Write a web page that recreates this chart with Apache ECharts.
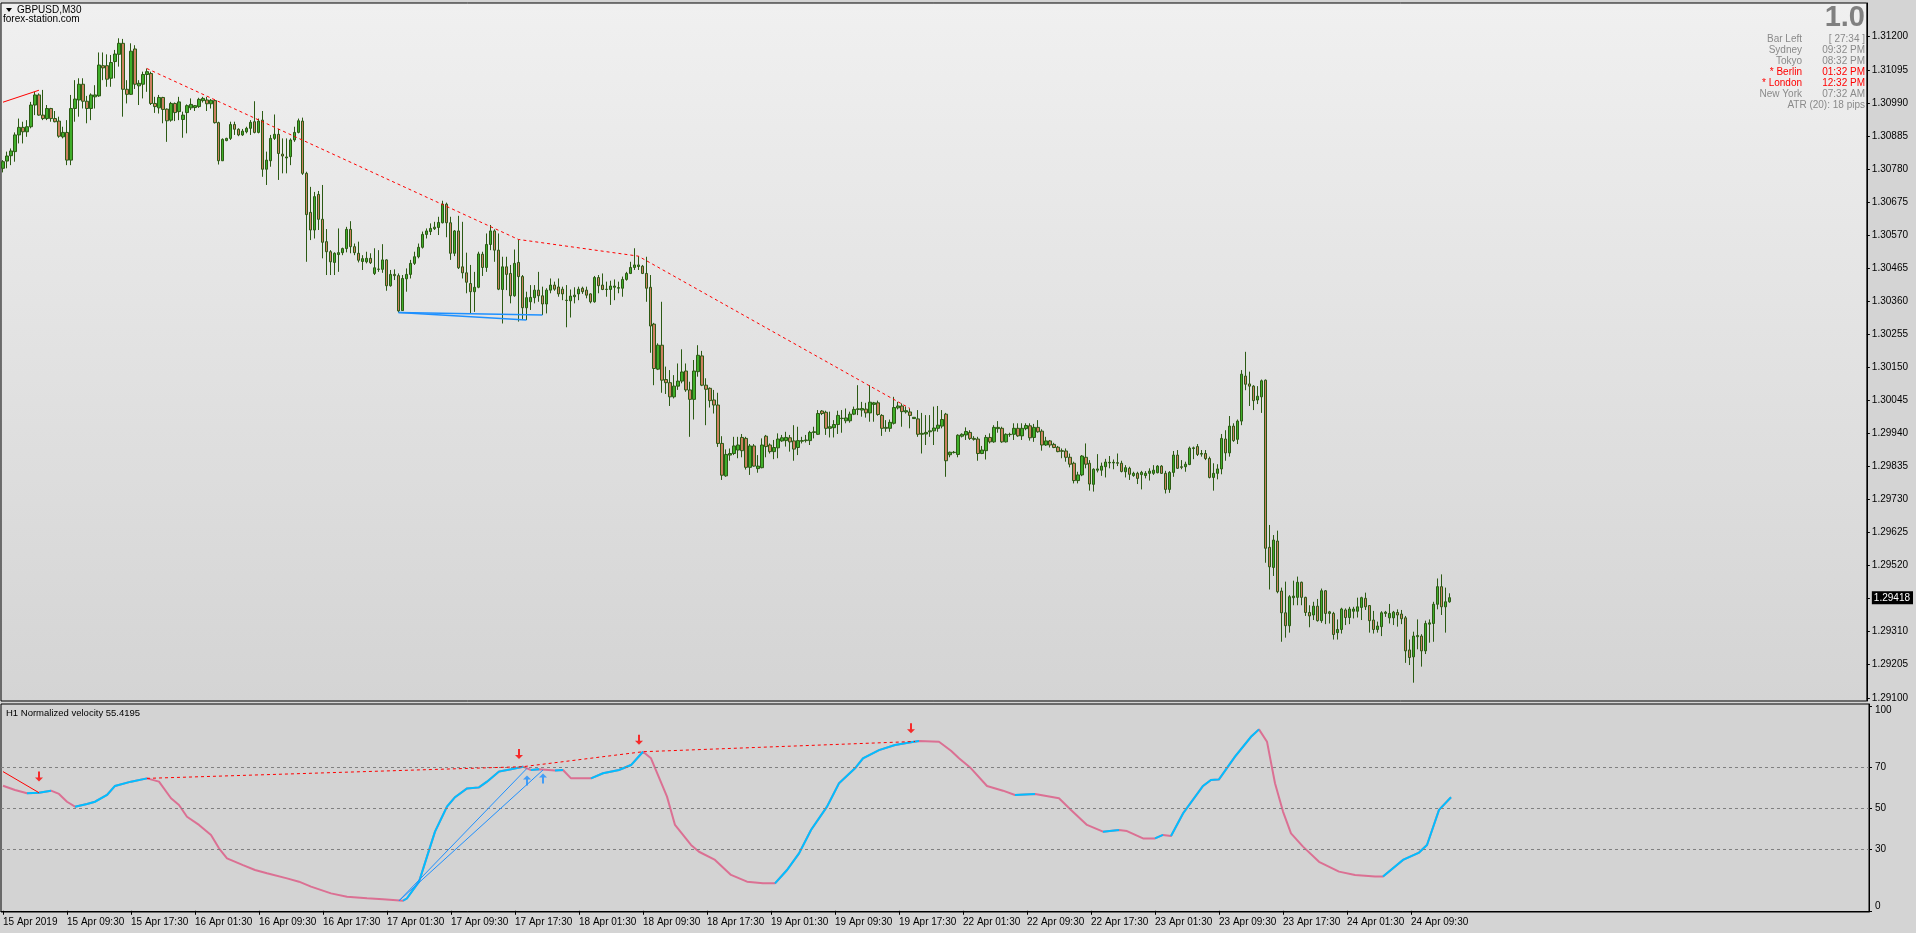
<!DOCTYPE html>
<html><head><meta charset="utf-8">
<script src="https://cdn.jsdelivr.net/npm/echarts@6/dist/echarts.min.js"></script>
<style>html,body{margin:0;padding:0;background:#d4d4d4;}#c{width:1916px;height:933px;}</style>
</head><body><div id="c"></div>
<script>
const opens=[1.30782,1.30805,1.30822,1.30835,1.30888,1.30912,1.30898,1.30914,1.30983,1.31015,
1.30951,1.30940,1.30972,1.30940,1.30932,1.30882,1.30896,1.30808,1.30972,1.30999,
1.31049,1.30995,1.30972,1.31009,1.31012,1.31108,1.31108,1.31068,1.31121,1.31144,
1.31179,1.31033,1.31017,1.31161,1.31044,1.31049,1.31080,1.31083,1.30988,1.30974,
1.31007,1.30970,1.30935,1.30988,1.30962,1.30937,1.30959,1.30974,1.30975,1.30978,
1.30997,1.30999,1.30987,1.30997,1.30927,1.30806,1.30870,1.30877,1.30921,1.30906,
1.30888,1.30898,1.30909,1.30930,1.30896,1.30935,1.30779,1.30806,1.30877,1.30890,
1.30827,1.30815,1.30819,1.30872,1.30896,1.30932,1.30766,1.30642,1.30586,1.30699,
1.30620,1.30549,1.30517,1.30483,1.30508,1.30514,1.30527,1.30588,1.30533,1.30512,
1.30486,1.30485,1.30496,1.30448,1.30462,1.30461,1.30491,1.30409,1.30445,1.30441,
1.30330,1.30431,1.30445,1.30480,1.30501,1.30531,1.30572,1.30581,1.30590,1.30594,
1.30609,1.30668,1.30609,1.30512,1.30583,1.30469,1.30450,1.30416,1.30390,1.30404,
1.30509,1.30467,1.30540,1.30583,1.30522,1.30397,1.30469,1.30448,1.30377,1.30483,
1.30438,1.30339,1.30358,1.30371,1.30395,1.30377,1.30351,1.30395,1.30411,1.30405,
1.30398,1.30363,1.30361,1.30374,1.30383,1.30401,1.30395,1.30383,1.30358,1.30435,
1.30411,1.30398,1.30397,1.30404,1.30401,1.30401,1.30429,1.30448,1.30467,1.30470,
1.30471,1.30448,1.30404,1.30287,1.30144,1.30220,1.30111,1.30101,1.30056,1.30090,
1.30106,1.30138,1.30078,1.30048,1.30136,1.30186,1.30093,1.30083,1.30046,1.30030,
1.29908,1.29805,1.29871,1.29876,1.29887,1.29927,1.29924,1.29832,1.29900,1.29828,
1.29831,1.29931,1.29903,1.29882,1.29894,1.29916,1.29917,1.29926,1.29916,1.29895,
1.29915,1.29917,1.29917,1.29943,1.29937,1.30011,1.30007,1.29956,1.29958,1.29968,
1.29987,1.29980,1.29980,1.30001,1.30016,1.30014,1.30017,1.30005,1.30032,1.30037,
1.29997,1.29959,1.29956,1.29972,1.30021,1.30027,1.30008,1.30008,1.29987,1.29986,
1.29937,1.29938,1.29945,1.29948,1.29956,1.29963,1.30001,1.29872,1.29879,1.29873,
1.29931,1.29935,1.29943,1.29924,1.29922,1.29876,1.29885,1.29927,1.29913,1.29955,
1.29956,1.29913,1.29936,1.29937,1.29956,1.29932,1.29955,1.29964,1.29927,1.29959,
1.29947,1.29903,1.29916,1.29905,1.29896,1.29885,1.29884,1.29864,1.29845,1.29790,
1.29808,1.29864,1.29845,1.29778,1.29823,1.29823,1.29834,1.29846,1.29846,1.29847,
1.29845,1.29818,1.29829,1.29806,1.29813,1.29809,1.29806,1.29813,1.29813,1.29815,
1.29836,1.29813,1.29762,1.29816,1.29871,1.29834,1.29834,1.29841,1.29892,1.29898,
1.29874,1.29876,1.29860,1.29800,1.29813,1.29827,1.29922,1.29878,1.29963,1.29921,
1.29979,1.30122,1.30097,1.30090,1.30046,1.30056,1.30109,1.29578,1.29514,1.29598,
1.29439,1.29370,1.29329,1.29418,1.29419,1.29467,1.29419,1.29371,1.29363,1.29391,
1.29345,1.29440,1.29368,1.29368,1.29307,1.29317,1.29379,1.29355,1.29375,1.29375,
1.29387,1.29416,1.29393,1.29347,1.29317,1.29326,1.29368,1.29354,1.29354,1.29371,
1.29366,1.29354,1.29252,1.29230,1.29294,1.29296,1.29249,1.29334,1.29336,1.29397,
1.29453,1.29389,1.29405];
const highs=[1.30808,1.30835,1.30845,1.30896,1.30940,1.30930,1.30935,1.30993,1.31025,1.31020,
1.31031,1.30983,1.30974,1.30964,1.30946,1.30914,1.30935,1.31015,1.31062,1.31068,
1.31068,1.31012,1.31020,1.31046,1.31150,1.31150,1.31144,1.31142,1.31158,1.31195,
1.31193,1.31062,1.31179,1.31173,1.31062,1.31089,1.31099,1.31089,1.31009,1.31015,
1.31009,1.30972,1.30993,1.30991,1.31009,1.30962,1.30985,1.31004,1.30983,1.31006,
1.31009,1.31009,1.31002,1.31000,1.30930,1.30877,1.30879,1.30930,1.30930,1.30909,
1.30907,1.30914,1.30935,1.30995,1.30940,1.30964,1.30835,1.30888,1.30953,1.30907,
1.30877,1.30877,1.30877,1.30914,1.30940,1.30943,1.30771,1.30723,1.30707,1.30710,
1.30729,1.30589,1.30522,1.30515,1.30591,1.30530,1.30596,1.30614,1.30543,1.30549,
1.30506,1.30517,1.30512,1.30528,1.30522,1.30541,1.30493,1.30459,1.30461,1.30448,
1.30443,1.30464,1.30491,1.30517,1.30543,1.30581,1.30591,1.30607,1.30612,1.30628,
1.30679,1.30673,1.30628,1.30586,1.30631,1.30612,1.30514,1.30475,1.30453,1.30517,
1.30517,1.30575,1.30602,1.30588,1.30575,1.30501,1.30501,1.30475,1.30524,1.30556,
1.30443,1.30390,1.30411,1.30411,1.30453,1.30406,1.30401,1.30432,1.30422,1.30432,
1.30406,1.30411,1.30397,1.30404,1.30406,1.30406,1.30406,1.30385,1.30440,1.30443,
1.30448,1.30422,1.30425,1.30429,1.30422,1.30438,1.30453,1.30485,1.30528,1.30503,
1.30475,1.30501,1.30443,1.30291,1.30226,1.30358,1.30152,1.30141,1.30125,1.30162,
1.30207,1.30162,1.30104,1.30173,1.30220,1.30202,1.30115,1.30086,1.30078,1.30069,
1.29931,1.29889,1.29892,1.29929,1.29929,1.29938,1.29929,1.29906,1.29906,1.29871,
1.29924,1.29935,1.29908,1.29919,1.29940,1.29935,1.29945,1.29935,1.29966,1.29961,
1.29929,1.29935,1.29948,1.29961,1.30014,1.30014,1.30012,1.30009,1.29982,1.30012,
1.30014,1.30019,1.30009,1.30025,1.30093,1.30040,1.30037,1.30093,1.30040,1.30044,
1.30001,1.29982,1.29984,1.30056,1.30040,1.30035,1.30025,1.30019,1.29991,1.30014,
1.30005,1.29998,1.29998,1.30025,1.30027,1.30014,1.30005,1.29882,1.29884,1.29937,
1.29940,1.29959,1.29950,1.29931,1.29929,1.29900,1.29935,1.29940,1.29966,1.29979,
1.29961,1.29940,1.29942,1.29972,1.29972,1.29972,1.29972,1.29972,1.29970,1.29982,
1.29953,1.29929,1.29919,1.29910,1.29900,1.29892,1.29892,1.29876,1.29850,1.29818,
1.29871,1.29908,1.29855,1.29829,1.29874,1.29847,1.29859,1.29868,1.29857,1.29876,
1.29853,1.29839,1.29834,1.29818,1.29818,1.29821,1.29820,1.29829,1.29839,1.29839,
1.29839,1.29821,1.29820,1.29884,1.29887,1.29855,1.29850,1.29898,1.29898,1.29906,
1.29887,1.29887,1.29866,1.29845,1.29842,1.29938,1.29950,1.29995,1.29972,1.29984,
1.30141,1.30199,1.30136,1.30093,1.30090,1.30111,1.30111,1.29649,1.29617,1.29631,
1.29450,1.29469,1.29426,1.29472,1.29485,1.29469,1.29421,1.29394,1.29405,1.29414,
1.29447,1.29442,1.29376,1.29373,1.29349,1.29386,1.29384,1.29389,1.29389,1.29418,
1.29421,1.29434,1.29394,1.29376,1.29342,1.29375,1.29376,1.29398,1.29376,1.29381,
1.29379,1.29360,1.29285,1.29310,1.29349,1.29302,1.29345,1.29349,1.29405,1.29479,
1.29492,1.29450,1.29432];
const lows=[1.30769,1.30782,1.30792,1.30803,1.30861,1.30861,1.30882,1.30909,1.30951,1.30949,
1.30935,1.30935,1.30930,1.30928,1.30879,1.30877,1.30792,1.30792,1.30930,1.30946,
1.30972,1.30925,1.30935,1.30972,1.31009,1.31062,1.31041,1.31041,1.31068,1.31105,
1.30946,1.30988,1.31015,1.31034,1.30983,1.31004,1.31025,1.30983,1.30958,1.30956,
1.30925,1.30866,1.30930,1.30932,1.30935,1.30879,1.30893,1.30967,1.30964,1.30974,
1.30991,1.30964,1.30972,1.30924,1.30794,1.30805,1.30868,1.30872,1.30888,1.30884,
1.30885,1.30893,1.30888,1.30893,1.30893,1.30755,1.30729,1.30787,1.30872,1.30745,
1.30766,1.30766,1.30792,1.30866,1.30893,1.30761,1.30485,1.30554,1.30559,1.30586,
1.30496,1.30443,1.30443,1.30443,1.30453,1.30506,1.30515,1.30512,1.30506,1.30483,
1.30459,1.30480,1.30478,1.30443,1.30453,1.30450,1.30393,1.30406,1.30427,1.30324,
1.30329,1.30390,1.30432,1.30475,1.30496,1.30527,1.30559,1.30570,1.30586,1.30570,
1.30607,1.30563,1.30491,1.30503,1.30462,1.30432,1.30385,1.30321,1.30326,1.30401,
1.30440,1.30453,1.30522,1.30485,1.30395,1.30289,1.30395,1.30353,1.30374,1.30295,
1.30300,1.30300,1.30332,1.30353,1.30358,1.30316,1.30321,1.30385,1.30393,1.30374,
1.30363,1.30277,1.30308,1.30353,1.30363,1.30383,1.30369,1.30353,1.30355,1.30385,
1.30395,1.30374,1.30348,1.30363,1.30385,1.30374,1.30425,1.30446,1.30459,1.30459,
1.30446,1.30358,1.30196,1.30093,1.30141,1.30069,1.30065,1.30027,1.30051,1.30078,
1.30099,1.30072,1.29929,1.29984,1.30120,1.30090,1.29966,1.30022,1.30003,1.29897,
1.29792,1.29802,1.29853,1.29871,1.29861,1.29864,1.29825,1.29808,1.29834,1.29815,
1.29829,1.29864,1.29876,1.29858,1.29861,1.29913,1.29898,1.29882,1.29853,1.29871,
1.29908,1.29911,1.29903,1.29924,1.29935,1.29998,1.29935,1.29927,1.29927,1.29938,
1.29942,1.29972,1.29974,1.29998,1.29998,1.29993,1.29990,1.29977,1.29977,1.29996,
1.29932,1.29945,1.29945,1.29968,1.30016,1.29961,1.30003,1.29956,1.29986,1.29929,
1.29876,1.29903,1.29929,1.29903,1.29945,1.29956,1.29802,1.29864,1.29876,1.29864,
1.29927,1.29919,1.29919,1.29917,1.29853,1.29874,1.29857,1.29908,1.29910,1.29942,
1.29910,1.29911,1.29929,1.29919,1.29929,1.29919,1.29950,1.29917,1.29913,1.29942,
1.29885,1.29900,1.29895,1.29893,1.29880,1.29861,1.29850,1.29832,1.29781,1.29781,
1.29804,1.29829,1.29758,1.29755,1.29816,1.29805,1.29800,1.29829,1.29826,1.29836,
1.29816,1.29800,1.29792,1.29802,1.29779,1.29762,1.29797,1.29790,1.29808,1.29813,
1.29811,1.29749,1.29751,1.29802,1.29827,1.29826,1.29818,1.29839,1.29858,1.29868,
1.29866,1.29855,1.29797,1.29758,1.29794,1.29810,1.29853,1.29866,1.29913,1.29906,
1.29966,1.30077,1.30027,1.30014,1.30033,1.30005,1.29529,1.29444,1.29487,1.29432,
1.29278,1.29291,1.29307,1.29394,1.29394,1.29394,1.29360,1.29324,1.29347,1.29342,
1.29338,1.29334,1.29336,1.29285,1.29285,1.29304,1.29331,1.29334,1.29352,1.29355,
1.29347,1.29379,1.29307,1.29304,1.29307,1.29296,1.29357,1.29336,1.29331,1.29326,
1.29334,1.29211,1.29204,1.29148,1.29254,1.29199,1.29239,1.29275,1.29278,1.29381,
1.29363,1.29307,1.29402];
const closes=[1.30803,1.30821,1.30837,1.30888,1.30912,1.30898,1.30914,1.30983,1.31015,1.30951,
1.30940,1.30972,1.30940,1.30930,1.30884,1.30896,1.30808,1.30972,1.31002,1.31049,
1.30995,1.30972,1.31015,1.31015,1.31110,1.31101,1.31065,1.31118,1.31145,1.31179,
1.31033,1.31017,1.31154,1.31049,1.31052,1.31080,1.31089,1.30988,1.30978,1.31007,
1.30969,1.30933,1.30988,1.30959,1.30993,1.30951,1.30981,1.30985,1.30981,1.31001,
1.31004,1.30987,1.30998,1.30927,1.30806,1.30874,1.30877,1.30921,1.30906,1.30888,
1.30900,1.30909,1.30928,1.30896,1.30932,1.30779,1.30808,1.30877,1.30890,1.30829,
1.30821,1.30818,1.30872,1.30896,1.30933,1.30766,1.30635,1.30586,1.30692,1.30620,
1.30547,1.30517,1.30485,1.30512,1.30514,1.30527,1.30588,1.30533,1.30514,1.30490,
1.30495,1.30496,1.30482,1.30466,1.30461,1.30491,1.30409,1.30445,1.30441,1.30329,
1.30432,1.30445,1.30480,1.30501,1.30531,1.30572,1.30583,1.30591,1.30595,1.30610,
1.30668,1.30609,1.30512,1.30583,1.30466,1.30450,1.30420,1.30390,1.30404,1.30510,
1.30467,1.30540,1.30583,1.30522,1.30398,1.30469,1.30445,1.30377,1.30480,1.30438,
1.30339,1.30371,1.30372,1.30395,1.30377,1.30351,1.30395,1.30411,1.30398,1.30383,
1.30383,1.30362,1.30376,1.30379,1.30398,1.30390,1.30379,1.30358,1.30435,1.30409,
1.30397,1.30397,1.30408,1.30408,1.30403,1.30429,1.30448,1.30467,1.30475,1.30475,
1.30448,1.30401,1.30281,1.30146,1.30220,1.30109,1.30101,1.30056,1.30090,1.30106,
1.30135,1.30078,1.30048,1.30138,1.30188,1.30093,1.30080,1.30044,1.30030,1.29908,
1.29807,1.29873,1.29876,1.29900,1.29903,1.29885,1.29832,1.29900,1.29836,1.29836,
1.29903,1.29898,1.29882,1.29895,1.29922,1.29926,1.29927,1.29913,1.29890,1.29917,
1.29917,1.29919,1.29943,1.29945,1.30003,1.30003,1.29956,1.29961,1.29968,1.29997,
1.29988,1.29989,1.30001,1.30016,1.30018,1.30019,1.30005,1.30039,1.30037,1.30000,
1.29956,1.29956,1.29975,1.30022,1.30027,1.30009,1.30012,1.29997,1.29991,1.29937,
1.29940,1.29943,1.29948,1.29957,1.29966,1.29984,1.29853,1.29880,1.29880,1.29934,
1.29937,1.29946,1.29924,1.29921,1.29876,1.29887,1.29927,1.29913,1.29959,1.29959,
1.29913,1.29937,1.29937,1.29956,1.29932,1.29956,1.29965,1.29926,1.29959,1.29945,
1.29903,1.29916,1.29903,1.29895,1.29882,1.29883,1.29864,1.29842,1.29790,1.29808,
1.29868,1.29842,1.29779,1.29826,1.29827,1.29836,1.29849,1.29848,1.29848,1.29845,
1.29819,1.29831,1.29810,1.29813,1.29797,1.29816,1.29813,1.29820,1.29823,1.29836,
1.29813,1.29762,1.29816,1.29871,1.29829,1.29832,1.29842,1.29893,1.29894,1.29873,
1.29876,1.29860,1.29800,1.29813,1.29827,1.29924,1.29878,1.29963,1.29917,1.29979,
1.30128,1.30096,1.30090,1.30044,1.30058,1.30107,1.29575,1.29516,1.29601,1.29437,
1.29370,1.29329,1.29421,1.29423,1.29467,1.29419,1.29371,1.29360,1.29391,1.29345,
1.29440,1.29368,1.29373,1.29301,1.29317,1.29382,1.29355,1.29382,1.29382,1.29389,
1.29418,1.29389,1.29345,1.29317,1.29328,1.29370,1.29372,1.29368,1.29372,1.29363,
1.29351,1.29249,1.29228,1.29296,1.29298,1.29249,1.29336,1.29338,1.29397,1.29453,
1.29389,1.29405,1.29418];

const xLabels=['15 Apr 2019','15 Apr 09:30','15 Apr 17:30','16 Apr 01:30','16 Apr 09:30','16 Apr 17:30','17 Apr 01:30','17 Apr 09:30','17 Apr 17:30','18 Apr 01:30','18 Apr 09:30','18 Apr 17:30','19 Apr 01:30','19 Apr 09:30','19 Apr 17:30','22 Apr 01:30','22 Apr 09:30','22 Apr 17:30','23 Apr 01:30','23 Apr 09:30','23 Apr 17:30','24 Apr 01:30','24 Apr 09:30'];
const priceTicks=[1.29100,1.29205,1.29310,1.29415,1.29520,1.29625,1.29730,1.29835,1.29940,1.30045,1.30150,1.30255,1.30360,1.30465,1.30570,1.30675,1.30780,1.30885,1.30990,1.31095,1.31200];
const lastPrice=1.29418;

const velBars=[0,3,6,9,12,14,16,18,21,23,26,28,32,36,39,42,44,46,49,52,54,56,60,63,66,71,74,77,82,86,91,95,100,101,104,106,108,111,113,116,119,121,124,127,130,132,134,138,140,142,147,150,154,157,160,162,166,168,172,174,178,182,186,190,193,196,199,202,206,209,213,215,219,223,227,229,234,237,239,242,246,250,253,258,264,267,271,275,279,281,285,288,290,292,295,300,302,304,308,312,314,316,318,320,322,325,329,334,338,343,345,350,354,356,359,362];
const velVals=[61.0,58.9,57.3,57.6,58.6,57.0,53.2,50.8,52.1,53.2,56.5,60.9,63.0,64.6,63.0,54.9,51.6,45.9,41.9,37.0,30.5,25.6,22.3,19.9,18.3,15.8,14.2,11.8,8.5,6.9,6.1,5.6,4.9,6.1,14.2,26.4,38.6,50.8,55.4,59.7,60.2,63.0,67.9,69.0,70.3,68.7,69.0,68.4,68.7,64.6,64.6,67.1,68.7,71.1,77.6,74.4,55.7,41.9,32.1,28.8,24.8,17.5,14.2,13.4,13.4,19.9,28.0,39.4,50.8,62.2,69.5,74.4,78.4,80.9,82.2,82.8,82.5,78.1,74.4,69.5,60.9,58.6,56.5,57.0,54.9,49.2,41.9,38.6,39.4,38.9,35.3,35.3,37.0,36.5,47.5,60.9,63.8,64.1,75.2,84.9,88.5,82.5,62.2,48.4,37.8,31.3,23.9,19.1,17.5,16.7,16.7,24.8,28.4,32.1,49.2,55.4];
const velTicks=[0,30,50,70,100];
const velLevels=[30,50,70];

const trendHighs=[[36,1.31099],[129,1.30556],[159,1.30503],[227,1.30019]];
const trendLeft=[[0,1.30992],[9,1.31030]];
const supportA=[[99,1.30324],[135,1.30316]];
const supportB=[[99,1.30324],[131,1.30300]];
const velTrend=[[36,64.6],[130,70.3],[160,77.6],[228,82.6]];
const velLeft=[[0,67.9],[9,57.6]];
const velSupA=[[99,4.9],[131,69.5]];
const velSupB=[[99,4.9],[135,68.7]];
const downArrows=[[9,65.5],[129,76.5],[159,83.5],[227,89]];
const upArrows=[[131,63.5],[135,64.5]];

const NCAT=467;
const LAST_LABEL=352;
const FONT='"Liberation Sans", Arial, sans-serif';
const cats=[];for(let i=0;i<NCAT;i++)cats.push(String(i));
const n=Math.min(opens.length,highs.length,lows.length,closes.length);
const candleData=[];for(let i=0;i<n;i++)candleData.push([opens[i],closes[i],lows[i],highs[i]]);
const pinkData=velBars.map((x,k)=>[x,velVals[k]]);
const bluePolys=[];let run=null;
for(let k=0;k<velBars.length-1;k++){
  if(velVals[k+1]>velVals[k]){ if(!run)run=[[velBars[k],velVals[k]]]; run.push([velBars[k+1],velVals[k+1]]); }
  else if(run){bluePolys.push({coords:run});run=null;}
}
if(run)bluePolys.push({coords:run});
const priceLabelTicks=priceTicks.filter(v=>Math.abs(v-lastPrice)>0.0003).concat([lastPrice]);
const showIdx=(i)=>i%16===0&&i<=LAST_LABEL;

const downArrow='path://M3,0 L5,0 L5,6 L8,6 L4,10 L0,6 L3,6 Z';
const upArrow='path://M4,0 L8,4 L5,4 L5,10 L3,10 L3,4 L0,4 Z';

function lineS(data,x,y,color,width,type,z){
  return {type:'line',xAxisIndex:x,yAxisIndex:y,data:data,symbol:'none',silent:true,z:z||3,
    lineStyle:{color:color,width:width,type:type||'solid'},emphasis:{disabled:true}};
}
const grayT='#8a8a8a';
const info=[['Bar Left','[ 27:34 ]',grayT],['Sydney','09:32 PM',grayT],['Tokyo','08:32 PM',grayT],['* Berlin','01:32 PM','#ff0000'],['* London','12:32 PM','#ff0000'],['New York','07:32 AM',grayT]];
const graphics=[
  {type:'polygon',shape:{points:[[6,8],[12,8],[9,12]]},style:{fill:'#000'}},
  {type:'text',x:17,y:10,style:{text:'GBPUSD,M30',font:'10px '+FONT,fill:'#000',verticalAlign:'middle'}},
  {type:'text',x:3,y:19,style:{text:'forex-station.com',font:'10px '+FONT,fill:'#000',verticalAlign:'middle'}},
  {type:'text',x:1865,y:18,style:{text:'1.0',font:'bold 29px '+FONT,fill:'#808080',align:'right',verticalAlign:'middle'}},
  {type:'text',x:6,y:713,style:{text:'H1 Normalized velocity 55.4195',font:'9.5px '+FONT,fill:'#000',verticalAlign:'middle'}}
];
info.forEach((r,k)=>{
  const y=39+k*11;
  graphics.push({type:'text',x:1802,y:y,style:{text:r[0],font:'10px '+FONT,fill:r[2],align:'right',verticalAlign:'middle'}});
  graphics.push({type:'text',x:1865,y:y,style:{text:r[1],font:'10px '+FONT,fill:r[2],align:'right',verticalAlign:'middle'}});
});
graphics.push({type:'text',x:1865,y:105,style:{text:'ATR (20): 18 pips',font:'10px '+FONT,fill:grayT,align:'right',verticalAlign:'middle'}});

const chart=echarts.init(document.getElementById('c'),null,{renderer:'canvas'});
chart.setOption({
  animation:false,
  backgroundColor:'#d4d4d4',
  grid:[
    {left:1,top:3,width:1868,height:698,show:true,borderColor:'#000',borderWidth:1,
     backgroundColor:new echarts.graphic.LinearGradient(0,0,0,1,[{offset:0,color:'#f0f0f0'},{offset:1,color:'#d4d4d4'}])},
    {left:1,top:704,width:1868,height:208,show:true,borderColor:'#000',borderWidth:1,backgroundColor:'#d3d3d3'}
  ],
  xAxis:[
    {type:'category',gridIndex:0,data:cats,boundaryGap:true,show:false},
    {type:'category',gridIndex:1,data:cats,boundaryGap:true,
     axisLine:{show:true,lineStyle:{color:'#000',width:1}},
     axisTick:{show:true,interval:(i)=>showIdx(i),alignWithLabel:true,length:4,lineStyle:{color:'#000'}},
     axisLabel:{interval:(i)=>showIdx(i),align:'left',margin:5,color:'#000',fontSize:10,fontFamily:FONT,
       formatter:function(v){const i=+v;return (i%16===0&&xLabels[i/16])||'';}},
     splitLine:{show:false}}
  ],
  yAxis:[
    {type:'value',gridIndex:0,position:'right',min:1.290898,max:1.313071,scale:true,
     axisLine:{show:true,lineStyle:{color:'#000'}},
     axisTick:{show:true,customValues:priceTicks,length:3,lineStyle:{color:'#000'}},
     axisLabel:{show:true,customValues:priceLabelTicks,margin:5,color:'#000',fontSize:10,fontFamily:FONT,
       formatter:v=>Math.abs(v-lastPrice)<1e-7?'{p|'+v.toFixed(5)+'}':v.toFixed(5),
       rich:{p:{color:'#fff',backgroundColor:'#000',padding:[2,3,1,2],fontSize:10,fontFamily:FONT}}},
     splitLine:{show:false}},
    {type:'value',gridIndex:1,position:'right',min:-0.59,max:100.88,
     axisLine:{show:true,lineStyle:{color:'#000'}},
     axisTick:{show:true,customValues:velTicks,length:3,lineStyle:{color:'#000'}},
     axisLabel:{show:true,customValues:velTicks,margin:6,color:'#000',fontSize:10,fontFamily:FONT,
       formatter:v=>{const r=Math.round(v);return r===100?'{t|100}':(r===0?'{b|0}':String(r));},
       rich:{t:{padding:[8,0,0,0],fontSize:10,fontFamily:FONT,color:'#000'},b:{padding:[0,0,10,0],fontSize:10,fontFamily:FONT,color:'#000'}}},
     splitLine:{show:false}}
  ],
  series:[
    {type:'candlestick',xAxisIndex:0,yAxisIndex:0,data:candleData,barWidth:3,silent:true,z:2,
     itemStyle:{color:'#3fae2a',color0:'#cc8060',borderColor:'#2c5a14',borderColor0:'#2c5a14',borderWidth:1},
     emphasis:{disabled:true},
     markLine:{silent:true,symbol:'none',animation:false,data:[{yAxis:lastPrice}],
       lineStyle:{color:'#bcbcbc',type:'solid',width:1},label:{show:false}}},
    lineS(trendHighs,0,0,'#ff0000',1,[3,3],4),
    lineS(trendLeft,0,0,'#ff0000',1,'solid',4),
    lineS(supportA,0,0,'#1e90ff',1.5,'solid',4),
    lineS(supportB,0,0,'#1e90ff',1.5,'solid',4),
    Object.assign(lineS(pinkData,1,1,'#db7093',2,'solid',3),{
      markLine:{silent:true,symbol:'none',animation:false,label:{show:false},
        lineStyle:{color:'#808080',type:[3,3],width:1},data:velLevels.map(v=>({yAxis:v}))}}),
    {type:'lines',coordinateSystem:'cartesian2d',xAxisIndex:1,yAxisIndex:1,polyline:true,silent:true,z:4,
     data:bluePolys,lineStyle:{color:'#00bfff',width:2,opacity:1},effect:{show:false}},
    lineS(velTrend,1,1,'#ff0000',1,[3,3],5),
    lineS(velLeft,1,1,'#ff0000',1,'solid',5),
    lineS(velSupA,1,1,'#1e90ff',1,'solid',5),
    lineS(velSupB,1,1,'#1e90ff',1,'solid',5),
    {type:'scatter',xAxisIndex:1,yAxisIndex:1,data:downArrows,symbol:downArrow,symbolSize:[8,10],silent:true,z:6,itemStyle:{color:'#ff0000'}},
    {type:'scatter',xAxisIndex:1,yAxisIndex:1,data:upArrows,symbol:upArrow,symbolSize:[8,10],silent:true,z:6,itemStyle:{color:'#1e90ff'}}
  ],
  graphic:graphics
});
</script></body></html>
